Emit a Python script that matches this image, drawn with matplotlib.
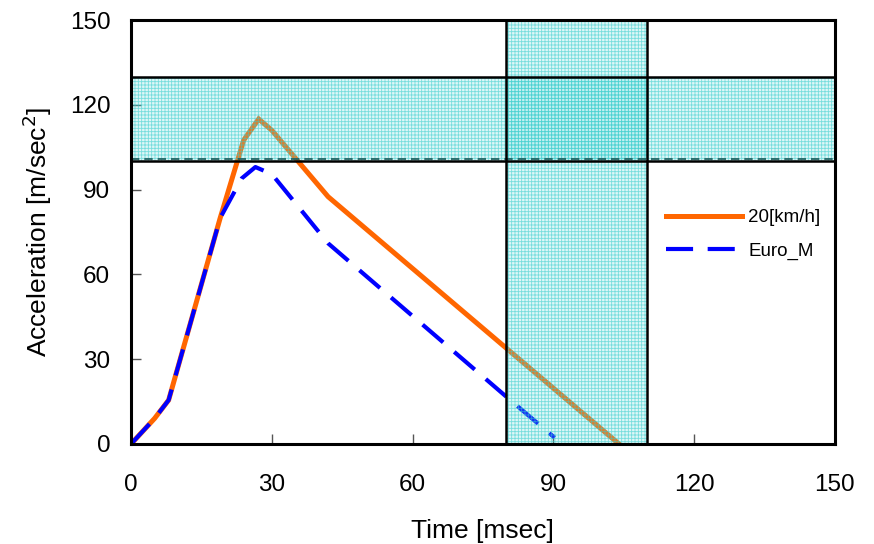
import matplotlib
matplotlib.use("Agg")
import matplotlib.pyplot as plt

plt.rcParams['font.family'] = ['Liberation Sans', 'DejaVu Sans']
plt.rcParams['hatch.linewidth'] = 0.6

# Data
t_20 = [0, 5, 8, 19, 24, 27.2, 30, 42, 104]
a_20 = [0, 9, 15.5, 80, 107.5, 115, 111, 87.5, 0]
t_euro = [0, 5, 8, 19, 23.6, 26.5, 30, 42, 80, 90.3]
a_euro = [0, 9, 15.5, 80, 94, 98, 95.5, 71, 16.7, 2.2]

h_band = (100, 130)   # horizontal corridor (acceleration)
v_band = (80, 110)    # vertical corridor (time)
x_ticks = [0, 30, 60, 90, 120, 150]
y_ticks = [0, 30, 60, 90, 120, 150]

fig = plt.figure(figsize=(8.74, 5.44), dpi=100)
ax = fig.add_axes([0.150, 0.184, 0.805, 0.779])

l1, = ax.plot(t_20, a_20, color='#FF6600', lw=3.6, solid_joinstyle='miter', zorder=2, label='20[km/h]')
l2, = ax.plot(t_euro, a_euro, color='#0000FF', lw=3, dashes=(6.5, 3.5), zorder=2, label='Euro_M')

face = (0.40, 0.86, 0.86, 0.22)
hatchc = (0.20, 0.80, 0.80, 0.6)
ax.fill_between([0, 150], h_band[0], h_band[1], facecolor=face, edgecolor=hatchc,
                hatch='+++++', linewidth=0, zorder=3)
ax.fill_betweenx([0, 150], v_band[0], v_band[1], facecolor=face, edgecolor=hatchc,
                 hatch='+++++', linewidth=0, zorder=3)

# band borders
ax.plot([0, 150], [h_band[0], h_band[0]], color='black', lw=1.8, zorder=4)
ax.plot([0, 150], [h_band[1], h_band[1]], color='black', lw=1.8, zorder=4)
ax.plot([0, 150], [h_band[0] + 0.8, h_band[0] + 0.8], color='#1a5a5a', lw=1.2,
        dashes=(5, 3), zorder=4)
ax.plot([v_band[0], v_band[0]], [0, 150], color='black', lw=1.8, zorder=4)
ax.plot([v_band[1], v_band[1]], [0, 150], color='black', lw=1.8, zorder=4)

ax.set_xlim(0, 150)
ax.set_ylim(0, 150)
ax.set_xticks(x_ticks)
ax.set_yticks(y_ticks)
ax.tick_params(direction='in', length=7, width=1, color='#555555', labelsize=17.5)
ax.tick_params(axis='x', pad=22)
ax.tick_params(axis='y', pad=15)
for s in ax.spines.values():
    s.set_linewidth(2.2)
    s.set_zorder(5)

ax.set_xlabel('Time [msec]', fontsize=19, labelpad=16)
ax.set_ylabel('Acceleration [m/sec$^2$]', fontsize=19, labelpad=11)

ax.legend(handles=[l1, l2], loc='center left', bbox_to_anchor=(0.749, 0.494), borderaxespad=0,
          frameon=False, fontsize=13.5, handlelength=4.1, handletextpad=0.3, labelspacing=0.85)

fig.savefig('out.png', dpi=100)
